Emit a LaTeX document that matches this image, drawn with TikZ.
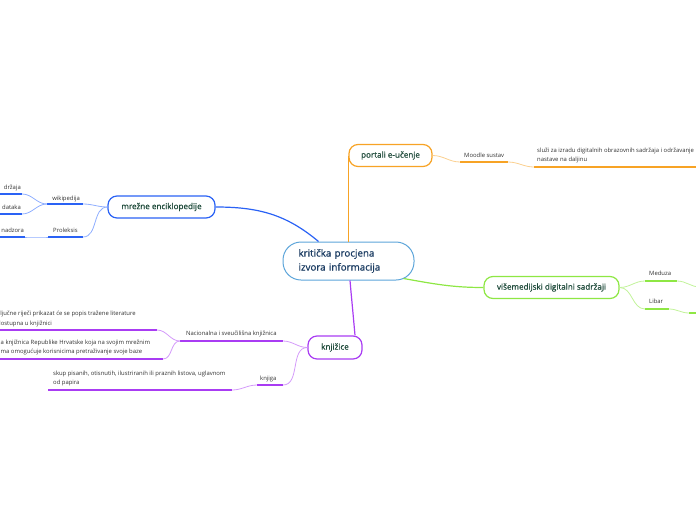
\documentclass[tikz,border=0pt]{standalone}
\usepackage{fontspec}
\setmainfont{Open Sans}
\newfontfamily\headfont{Open Sans}[FakeBold=0.8]
\definecolor{ctrline}{HTML}{5DA5DA}
\definecolor{ctrtext}{HTML}{1C3D63}
\definecolor{titletext}{HTML}{1F4B3B}
\definecolor{encblue}{HTML}{2A62F5}
\definecolor{enclight}{HTML}{8FAEFF}
\definecolor{portorange}{HTML}{F7A325}
\definecolor{portlight}{HTML}{FBD08F}
\definecolor{medgreen}{HTML}{8EE744}
\definecolor{medlight}{HTML}{C2F39A}
\definecolor{libpurple}{HTML}{A93CF3}
\definecolor{liblight}{HTML}{D49BFA}
\begin{document}
\begin{tikzpicture}[x=1pt,y=-1pt,
  topic/.style={draw, rounded corners=9pt, line width=1.2pt, fill=white, minimum height=22pt, inner xsep=0pt, text=titletext, font=\headfont\fontsize{8.1}{9}\selectfont},
  leaf/.style={inner sep=0pt, text=black!80, font=\fontsize{5.9}{9.3}\selectfont, align=left},
  uline/.style={line width=2pt},
  twig/.style={line width=0.8pt},
  trunk/.style={line width=1.2pt}
]
\useasboundingbox (0,0) rectangle (696,520);

\node[draw=ctrline, fill=white, rounded corners=18pt, line width=1pt, minimum width=131pt, minimum height=38pt, text width=100pt, align=left, inner xsep=15.5pt, text=ctrtext, font=\headfont\fontsize{9.8}{14}\selectfont] (ctr) at (348.5,261) {kritička procjena\\izvora informacija};

\node[topic, draw=encblue, minimum width=107pt] (mre) at (161.5,207) {mrežne enciklopedije};
\node[topic, draw=portorange, minimum width=83pt] (por) at (390.5,155.5) {portali e-učenje};
\node[topic, draw=medgreen, minimum width=135pt] (med) at (551.5,287.5) {višemedijski digitalni sadržaji};
\node[topic, draw=libpurple, minimum width=54pt, minimum height=23pt] (kj) at (335,347.5) {knjižice};

\draw[trunk, encblue] ([xshift=-30pt]ctr.north) to[out=140,in=0] (mre.east);
\draw[trunk, portorange] (ctr.north) -- (ctr.north |- por.west);
\draw[trunk, medgreen] ([xshift=-11pt,yshift=2pt]ctr.south east) to[out=-10,in=180] (med.west);
\draw[trunk, libpurple] ([xshift=1.5pt]ctr.south) to[out=-85,in=95] ([xshift=20pt]kj.north);

% mrezne enciklopedije
\coordinate (wkL) at (47,204);
\coordinate (wkR) at (83,204);
\coordinate (w1L) at (-5,194);
\coordinate (w1R) at (22,194);
\coordinate (w2L) at (-5,214);
\coordinate (w2R) at (22,214);
\coordinate (pxL) at (48,237);
\coordinate (pxR) at (83,237);
\coordinate (p1L) at (-5,237);
\coordinate (p1R) at (25,237);
\draw[uline, encblue] (wkL) -- (wkR);
\draw[uline, encblue] (w1L) -- (w1R);
\draw[uline, encblue] (w2L) -- (w2R);
\draw[uline, encblue] (pxL) -- (pxR);
\draw[uline, encblue] (p1L) -- (p1R);
\draw[twig, enclight] (mre.west) to[out=180,in=0] (wkR);
\draw[twig, enclight] (mre.west) to[out=180,in=0] (pxR);
\draw[twig, enclight] (wkL) to[out=180,in=0] (w1R);
\draw[twig, enclight] (wkL) to[out=180,in=0] (w2R);
\draw[twig, enclight] (pxL) to[out=180,in=0] (p1R);
\node[leaf, anchor=base east] (wkt) at (80,200) {wikipedija};
\node[leaf, anchor=base east] (w1t) at (21,189.5) {držaja};
\node[leaf, anchor=base east] (w2t) at (21,209.5) {dataka};
\node[leaf, anchor=base west] (pxt) at (53,232.5) {Proleksis};
\node[leaf, anchor=base east] (p1t) at (24,232.5) {nadzora};

% knjizice
\coordinate (naL) at (180,341);
\coordinate (naR) at (283,341);
\coordinate (n1L) at (-5,330);
\coordinate (n1R) at (157,330);
\coordinate (n2L) at (-5,359);
\coordinate (n2R) at (163,359);
\coordinate (kgL) at (257,385);
\coordinate (kgR) at (283,385);
\coordinate (k1L) at (48,390);
\coordinate (k1R) at (232,390);
\draw[uline, libpurple] (naL) -- (naR);
\draw[uline, libpurple] (n1L) -- (n1R);
\draw[uline, libpurple] (n2L) -- (n2R);
\draw[uline, libpurple] (kgL) -- (kgR);
\draw[uline, libpurple] (k1L) -- (k1R);
\draw[twig, liblight] (kj.west) to[out=180,in=0] (naR);
\draw[twig, liblight] (kj.west) to[out=180,in=0] (kgR);
\draw[twig, liblight] (naL) to[out=180,in=0] (n1R);
\draw[twig, liblight] (naL) to[out=180,in=0] (n2R);
\draw[twig, liblight] (kgL) to[out=180,in=0] (k1R);
\node[leaf, anchor=base west] (nat) at (186,335) {Nacionalna i sveučilišna knjižnica};
\node[leaf, anchor=north west] (n1t) at (-3,311) {ključne riječi prikazat će se popis tražene literature\\dostupna u knjižnici};
\node[leaf, anchor=north west] (n2t) at (0.5,339.5) {a knjižnica Republike Hrvatske koja na svojim mrežnim\\ma omogućuje korisnicima pretraživanje svoje baze};
\node[leaf, anchor=base west] (kgt) at (260,380.5) {knjiga};
\node[leaf, anchor=north west] (k1t) at (53,370.5) {skup pisanih, otisnutih, ilustriranih ili praznih listova, uglavnom\\od papira};

% portali e-ucenje
\coordinate (moL) at (460,162);
\coordinate (moR) at (508,162);
\coordinate (m1L) at (534,167);
\coordinate (m1R) at (700,167);
\draw[uline, portorange] (moL) -- (moR);
\draw[uline, portorange] (m1L) -- (m1R);
\draw[twig, portlight] (por.east) to[out=0,in=180] (moL);
\draw[twig, portlight] (moR) to[out=0,in=180] (m1L);
\node[leaf, anchor=base west] (mot) at (464,157.5) {Moodle sustav};
\node[leaf, anchor=north west] (m1t) at (537,147.5) {služi za izradu digitalnih obrazovnih sadržaja i održavanje\\nastave na daljinu};

% visemedijski sadrzaji
\coordinate (meL) at (645,281);
\coordinate (meR) at (677,281);
\coordinate (e1L) at (700,287);
\coordinate (lbL) at (645,309);
\coordinate (lbR) at (669,309);
\coordinate (l1L) at (689,313);
\coordinate (l1R) at (700,313);
\draw[uline, medgreen] (meL) -- (meR);
\draw[uline, medgreen] (lbL) -- (lbR);
\draw[uline, medgreen] (l1L) -- (l1R);
\draw[twig, medlight] (med.east) to[out=0,in=180] (meL);
\draw[twig, medlight] (med.east) to[out=0,in=180] (lbL);
\draw[twig, medlight] (meR) to[out=0,in=180] (e1L);
\draw[twig, medlight] (lbR) to[out=0,in=180] (l1L);
\node[leaf, anchor=base west] (met) at (649,275.5) {Meduza};
\node[leaf, anchor=base west] (lbt) at (649,303.5) {Libar};
\end{tikzpicture}
\end{document}
